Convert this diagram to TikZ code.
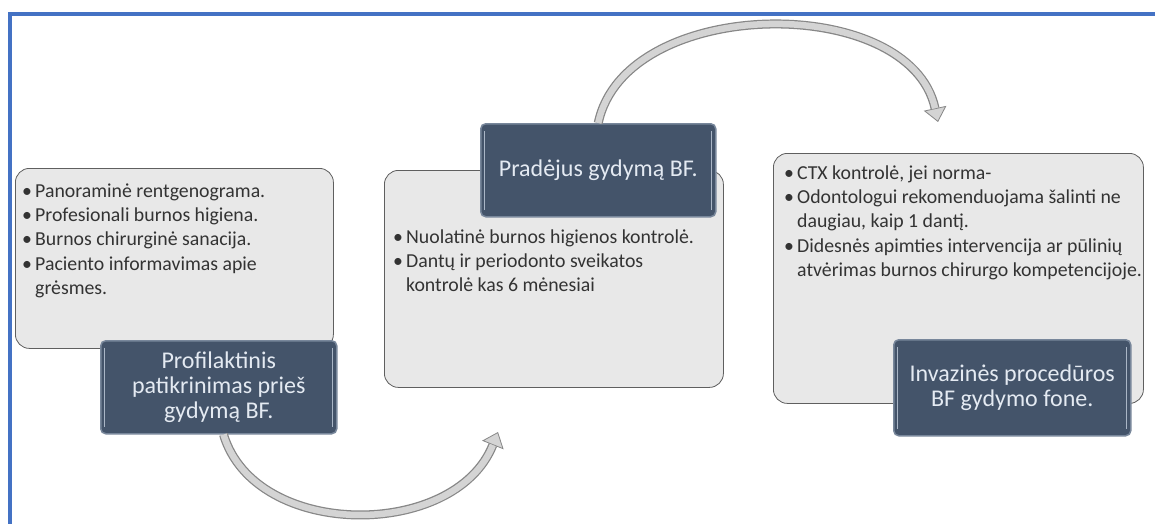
\documentclass[tikz,border=0pt]{standalone}
\usepackage{fontspec}
\setmainfont{Carlito}
\usetikzlibrary{arrows.meta,calc}
\definecolor{frameblue}{RGB}{68,114,196}
\definecolor{boxgray}{RGB}{232,232,232}
\definecolor{boxedge}{RGB}{95,95,95}
\definecolor{slate}{RGB}{68,84,106}
\definecolor{slateedge}{RGB}{120,135,155}
\definecolor{bevel}{RGB}{170,182,198}
\definecolor{titletext}{RGB}{228,234,242}
\definecolor{arrowedge}{RGB}{135,135,135}
\definecolor{arrowfill}{RGB}{212,212,212}
\newcommand{\bitem}[1]{\strut\makebox[13pt][l]{\textbullet}#1}
\newcommand{\bcont}[1]{\strut\hspace*{13pt}#1}
\begin{document}
\begin{tikzpicture}[x=1pt,y=-1pt,
  card/.style={draw=boxedge, line width=0.8pt, fill=boxgray, rounded corners=14pt, anchor=north west, inner sep=0pt},
  title/.style={draw=slateedge, line width=1.5pt, fill=slate, rounded corners=5pt, anchor=north west, inner sep=0pt, text=titletext, align=center, font=\fontsize{24}{25}\selectfont,
    path picture={
      \draw[bevel, line width=1.2pt] ([xshift=4pt,yshift=-7pt]path picture bounding box.north west) -- ([xshift=4pt,yshift=7pt]path picture bounding box.south west);
      \draw[bevel, line width=1.2pt] ([xshift=-4pt,yshift=-7pt]path picture bounding box.north east) -- ([xshift=-4pt,yshift=7pt]path picture bounding box.south east);
    }},
  bullets/.style={anchor=north west, inner sep=0pt, align=left, text=black!80, font=\fontsize{19.8}{24.3}\selectfont},
  shaft/.style={line width=9pt, draw=arrowedge},
  core/.style={line width=6.5pt, draw=arrowfill},
  tip/.style={-{Triangle[length=14pt,width=23pt,line width=0.8pt,fill=arrowfill]}}
]
\useasboundingbox (0,0) rectangle (1155,524);
\fill[white] (0,0) rectangle (1155,524);
\draw[frameblue, line width=4pt] (10,524) -- (10,14) -- (1155,14);

% cards
\node[card, minimum width=318pt, minimum height=180pt] (g1) at (15,168) {};
\node[card, minimum width=339pt, minimum height=217pt] (g2) at (384,170) {};
\node[card, minimum width=370pt, minimum height=250pt] (g3) at (773,153) {};

% bullet texts
\node[bullets] (t1) at (22,180) {\bitem{Panoraminė rentgenograma.}\\
\bitem{Profesionali burnos higiena.}\\
\bitem{Burnos chirurginė sanacija.}\\
\bitem{Paciento informavimas apie}\\
\bcont{grėsmes.}};
\node[bullets] (t2) at (393,226) {\bitem{Nuolatinė burnos higienos kontrolė.}\\
\bitem{Dantų ir periodonto sveikatos}\\
\bcont{kontrolė kas 6 mėnesiai}};
\node[bullets] (t3) at (784,162) {\bitem{CTX kontrolė, jei norma-}\\
\bitem{Odontologui rekomenduojama šalinti ne}\\
\bcont{daugiau, kaip 1 dantį.}\\
\bitem{Didesnės apimties intervencija ar pūlinių}\\
\bcont{atvėrimas burnos chirurgo kompetencijoje.}};

% titles
\node[title, minimum width=236pt, minimum height=93pt] (d1) at (100,340) {Profilaktinis\\patikrinimas prieš\\gydymą BF.};
\node[title, minimum width=235pt, minimum height=93pt] (d2) at (480,123) {Pradėjus gydymą BF.};
\node[title, minimum width=237pt, minimum height=96pt] (d3) at (893,339) {Invazinės procedūros\\BF gydymo fone.};

% arrows
\coordinate (a1s) at ($(d1.south west)!0.52!(d1.south east)$);
\coordinate (a1e) at (498,432);
\draw[shaft,tip] (a1s) .. controls (255,540) and (455,540) .. (a1e);
\draw[core, shorten >=14pt] (a1s) .. controls (255,540) and (455,540) .. (a1e);

\coordinate (a2s) at ($(d2.north west)!0.5!(d2.north east)$);
\coordinate (a2e) at (938,122);
\draw[shaft,tip] (a2s) .. controls (625,-5) and (910,-8) .. (a2e);
\draw[core, shorten >=14pt] (a2s) .. controls (625,-5) and (910,-8) .. (a2e);
\end{tikzpicture}
\end{document}
